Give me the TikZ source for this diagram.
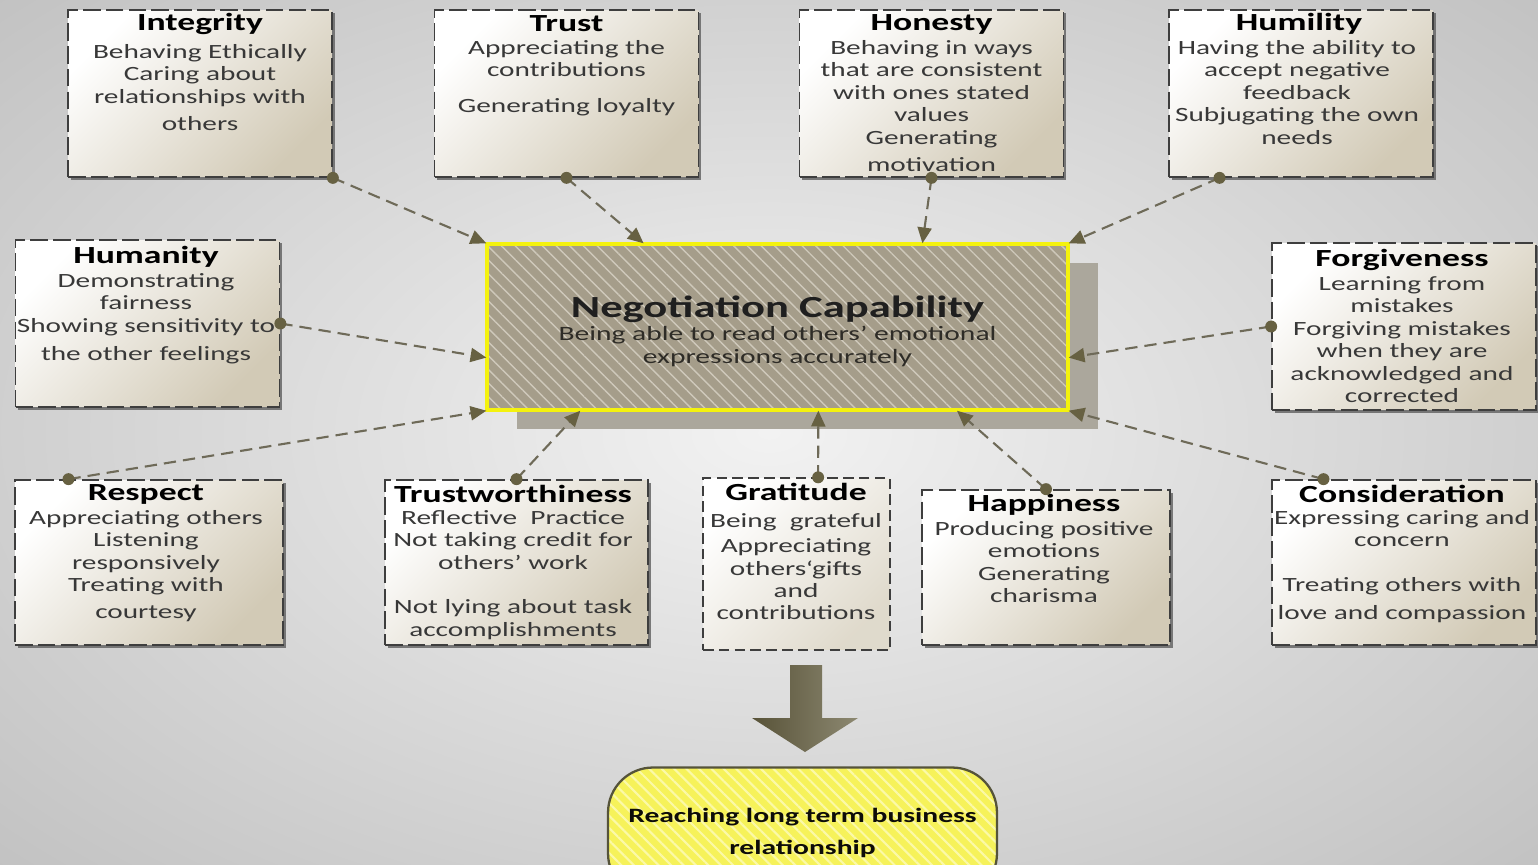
\documentclass[tikz,border=0pt]{standalone}
\usepackage{fontspec}
\setmainfont[FakeStretch=1.45]{Carlito}
\definecolor{bgouter}{HTML}{C2C2C2}
\definecolor{bginner}{HTML}{F2F2F2}
\definecolor{boxtan}{HTML}{D2CAB6}
\definecolor{boxline}{HTML}{3E3E3E}
\definecolor{linkgray}{HTML}{6E6A58}
\definecolor{dotolive}{HTML}{676142}
\definecolor{corefill}{HTML}{A59D8A}
\definecolor{corestripe}{HTML}{CFC9BB}
\definecolor{coreshadow}{HTML}{ABA79C}
\definecolor{coreedge}{HTML}{F4F20E}
\definecolor{goalfill}{HTML}{F6F25A}
\definecolor{goalstripe}{HTML}{FBF9A8}
\definecolor{goaledge}{HTML}{55533A}
\definecolor{bodytext}{HTML}{383838}
\usetikzlibrary{positioning, arrows.meta, shadows, patterns.meta}

\begin{document}
\begin{tikzpicture}[x=0.02cm, y=-0.02cm,
  valuebox/.style={draw=boxline, line width=1pt, dash pattern=on 10pt off 3pt,
                   top color=white, bottom color=boxtan, shading angle=45,
                   drop shadow={shadow xshift=1.6pt, shadow yshift=-1.6pt, fill=black!60, opacity=.85},
                   minimum width=5.28cm, minimum height=3.34cm, inner sep=0pt},
  plainbox/.style={draw=boxline, line width=.8pt, dash pattern=on 6pt off 3pt,
                   top color=white, bottom color=boxtan!70, shading angle=45,
                   inner sep=0pt},
  vtitle/.style={font=\fontsize{14}{16}\selectfont\bfseries, text=black, inner sep=0pt},
  vbody/.style={font=\fontsize{11.5}{12.8}\selectfont, text=bodytext, align=center,
                inner sep=0pt, anchor=north},
  core/.style={draw=coreedge, line width=2pt,
               drop shadow={shadow xshift=0.6cm, shadow yshift=-0.38cm, fill=coreshadow, opacity=1},
               preaction={fill=corefill},
               pattern={Lines[angle=-45, distance=5.5pt, line width=.8pt]}, pattern color=corestripe,
               minimum width=11.62cm, minimum height=3.32cm, align=center, inner sep=0pt,
               font=\fontsize{11.6}{13}\selectfont, text=black!72!corefill},
  goal/.style={draw=goaledge, line width=1.3pt, rounded corners=0.9cm,
               preaction={fill=goalfill},
               pattern={Lines[angle=-45, distance=5pt, line width=1.2pt]}, pattern color=goalstripe,
               minimum width=7.78cm, minimum height=2.62cm, align=center, inner sep=0pt,
               font=\fontsize{11.6}{18.5}\selectfont\bfseries, text=black!85!goaledge},
  link/.style={draw=linkgray, line width=1.2pt, dash pattern=on 7pt off 4pt,
               -{Triangle[length=9pt, width=8pt, color=dotolive]}},
  dot/.style={fill=dotolive}
]
\useasboundingbox (0,0) rectangle (1538,865);
\clip (0,0) rectangle (1538,865);
\shade[inner color=bginner, outer color=bgouter] (-300,-200) rectangle (1838,1065);

% centre
\node[core] (core) at (777.5,327) {};
\node[inner sep=0pt, align=center, font=\fontsize{11.6}{13}\selectfont, text=black!72!corefill]
  (core-t) at (777.5,331) {{\fontsize{17.5}{13}\selectfont\bfseries\color{black!88}Negotiation Capability}\\[0pt]
  Being able to read others’ emotional\\expressions accurately};

% top row
\node[valuebox] (integrity) at (200,93.5) {};
\node[vtitle] (integrity-t) at (200,24) {Integrity};
\node[vbody] (integrity-b) at (200,44) {Behaving Ethically\\Caring about\\relationships with\\[2.5pt]others};

\node[valuebox] (trust) at (566.5,93.5) {};
\node[vtitle] (trust-t) at (566.5,24) {Trust};
\node[vbody] (trust-b) at (566.5,40) {Appreciating the\\contributions\\[7.5pt]Generating loyalty};

\node[valuebox] (honesty) at (931.5,93.5) {};
\node[vtitle] (honesty-t) at (931.5,24) {Honesty};
\node[vbody] (honesty-b) at (931.5,40) {Behaving in ways\\that are consistent\\with ones stated\\values\\Generating\\[2.5pt]motivation};

\node[valuebox] (humility) at (1301,93.5) {};
\node[vtitle] (humility-t) at (1299,24) {Humility};
\node[vbody] (humility-b) at (1297,40) {Having the ability to\\accept negative\\feedback\\Subjugating the own\\needs};

% middle row
\node[valuebox] (humanity) at (147.5,323.5) {};
\node[vtitle] (humanity-t) at (146,257) {Humanity};
\node[vbody] (humanity-b) at (146,273) {Demonstrating\\fairness\\Showing sensitivity to\\[3.5pt]the other feelings};

\node[valuebox] (forgiveness) at (1404,326.5) {};
\node[vtitle] (forgiveness-t) at (1402,260) {Forgiveness};
\node[vbody] (forgiveness-b) at (1402,276) {Learning from\\mistakes\\Forgiving mistakes\\when they are\\acknowledged and\\corrected};

% bottom row
\node[valuebox, minimum width=5.36cm, minimum height=3.3cm] (respect) at (149,562.5) {};
\node[vtitle] (respect-t) at (146,494) {Respect};
\node[vbody] (respect-b) at (146,510) {Appreciating others\\Listening\\responsively\\Treating with\\[2.5pt]courtesy};

\node[valuebox, minimum width=5.26cm, minimum height=3.3cm] (trustworthiness) at (516.5,562.5) {};
\node[vtitle] (trustworthiness-t) at (513,494) {Trustworthiness};
\node[vbody] (trustworthiness-b) at (513,510) {Reflective\ \ Practice\\Not taking credit for\\others’ work\\[12.5pt]Not lying about task\\accomplishments};

\node[plainbox, minimum width=3.74cm, minimum height=3.44cm] (gratitude) at (796.5,564) {};
\node[vtitle] (gratitude-t) at (796,492) {Gratitude};
\node[vbody] (gratitude-b) at (796,513) {Being\ \ grateful\\[1.5pt]Appreciating\\others`gifts\\and\\contributions};

\node[valuebox, minimum width=4.96cm, minimum height=3.1cm] (happiness) at (1046,567.5) {};
\node[vtitle] (happiness-t) at (1044,505) {Happiness};
\node[vbody] (happiness-b) at (1044,521) {Producing positive\\emotions\\Generating\\charisma};

\node[valuebox, minimum height=3.3cm] (consideration) at (1404,562.5) {};
\node[vtitle] (consideration-t) at (1402,494) {Consideration};
\node[vbody] (consideration-b) at (1402,510) {Expressing caring and\\concern\\[12.5pt]Treating others with\\[3pt]love and compassion};

% connectors into the centre
\foreach \from/\to in {integrity.south east/core.north west, trust.south/core.148,
    honesty.south/core.30, humility.226/core.north east,
    humanity.east/core.186, forgiveness.west/core.354,
    respect.134.5/core.south west, trustworthiness.north/core.203,
    gratitude.76/core.296, happiness.north/core.335.5,
    consideration.134/core.south east}
{
  \draw[link] (\from) -- (\to);
  \fill[dot] (\from) circle (3.4pt);
}

% outcome
\shade[left color=dotolive!85!black, right color=dotolive!75!white]
  (790,665) -- (822,665) -- (822,718) -- (858,718) -- (805,752) -- (752,718) -- (790,718) -- cycle;
\node[goal] (goal) at (802.5,833) {Reaching long term business\\relationship};
\end{tikzpicture}
\end{document}
